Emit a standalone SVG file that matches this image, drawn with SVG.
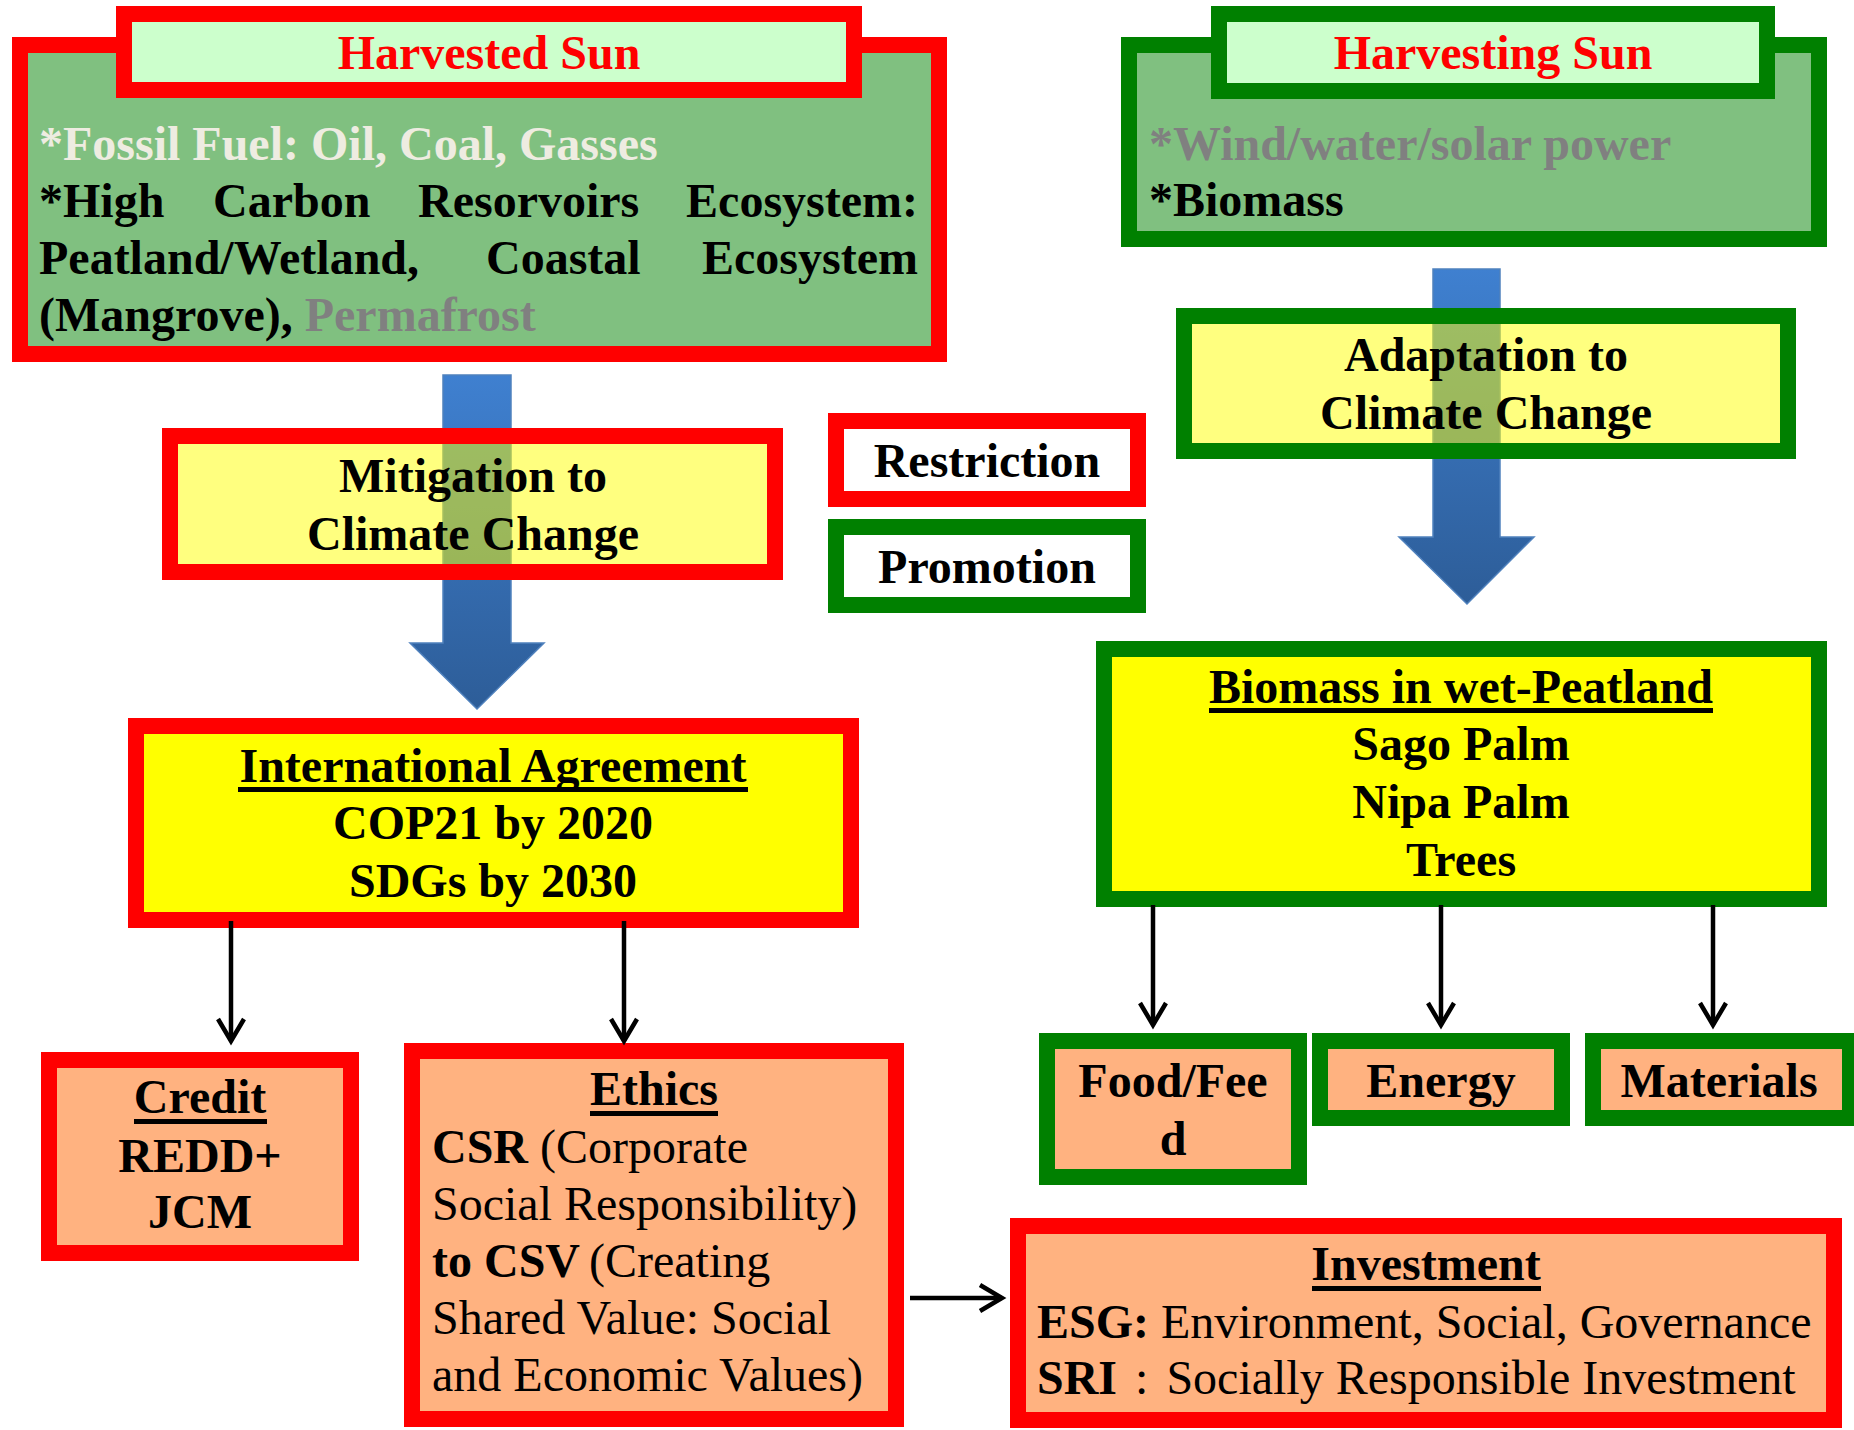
<svg xmlns="http://www.w3.org/2000/svg" width="1854" height="1430" viewBox="0 0 1854 1430">
<defs>
<style>
text{font-family:"Liberation Serif","Times New Roman","Noto Sans CJK JP",serif;font-size:48px;font-weight:bold;fill:#000}
.c{text-anchor:middle}
.e{text-anchor:end}
.n{font-weight:normal}
.red{fill:#ff0000}
.gray{fill:#808080}
.pale{fill:#eeece1}
.rb{stroke:#ff0000;stroke-width:16}
.gb{stroke:#008000;stroke-width:16}
.body{fill:#80c080}
.tab{fill:#ccffcc}
.ly{fill:#ffff00;fill-opacity:0.5}
.y{fill:#ffff00}
.pe{fill:#ffb280}
.w{fill:#ffffff}
.ul{fill:#000}
.blk{stroke:#000;stroke-width:4.5;fill:none}
.blue{fill:url(#bg);stroke:#4f81bd;stroke-width:1.5}
</style>
<linearGradient id="bg" x1="0" y1="0" x2="0" y2="1">
<stop offset="0" stop-color="#3f80d0"/>
<stop offset="1" stop-color="#2d5d98"/>
</linearGradient>
<marker id="ah" markerUnits="userSpaceOnUse" markerWidth="40" markerHeight="40" refX="30" refY="20" orient="auto" viewBox="0 0 40 40">
<path d="M8,7 L30,20 L8,33" fill="none" stroke="#000" stroke-width="4.5"/>
</marker>
</defs>
<rect width="1854" height="1430" fill="#ffffff"/>

<g id="connectors-back">
<polygon class="blue" points="443,375 511,375 511,643 544,643 477,709 410,643 443,643"/>
<polygon class="blue" points="1433,269 1500,269 1500,537 1534,537 1467,604 1399,537 1433,537"/>
</g>

<g id="harvested-sun">
<rect class="body rb" x="20" y="45" width="919" height="309"/>
<rect class="tab rb" x="124" y="14" width="730" height="76"/>
<text class="c red" x="489" y="69">Harvested Sun</text>
<text class="pale" x="39" y="160">*Fossil Fuel: Oil, Coal, Gasses</text>
<text x="39" y="217">*High</text>
<text x="213" y="217">Carbon</text>
<text x="418" y="217">Resorvoirs</text>
<text class="e" x="918" y="217">Ecosystem:</text>
<text x="39" y="274">Peatland/Wetland,</text>
<text x="486" y="274">Coastal</text>
<text class="e" x="918" y="274">Ecosystem</text>
<text x="39" y="331">(Mangrove), <tspan class="gray">Permafrost</tspan></text>
</g>

<g id="harvesting-sun">
<rect class="body gb" x="1129" y="45" width="690" height="194"/>
<rect class="tab gb" x="1219" y="14" width="548" height="77"/>
<text class="c red" x="1493" y="69">Harvesting Sun</text>
<text class="gray" x="1149" y="160">*Wind/water/solar power</text>
<text x="1149" y="216">*Biomass</text>
</g>

<g id="mitigation">
<rect class="ly rb" x="170" y="436" width="605" height="136"/>
<text class="c" x="473" y="492">Mitigation to</text>
<text class="c" x="473" y="550">Climate Change</text>
</g>

<g id="adaptation">
<rect class="ly gb" x="1184" y="316" width="604" height="135"/>
<text class="c" x="1486" y="371">Adaptation to</text>
<text class="c" x="1486" y="429">Climate Change</text>
</g>

<g id="restriction">
<rect class="w rb" x="836" y="421" width="302" height="78"/>
<text class="c" x="987" y="477">Restriction</text>
</g>

<g id="promotion">
<rect class="w gb" x="836" y="527" width="302" height="78"/>
<text class="c" x="987" y="583">Promotion</text>
</g>

<g id="international-agreement">
<rect class="y rb" x="136" y="726" width="715" height="194"/>
<text class="c" x="493" y="782">International Agreement</text>
<rect class="ul" x="238" y="787" width="510" height="5"/>
<text class="c" x="493" y="839">COP21 by 2020</text>
<text class="c" x="493" y="897">SDGs by 2030</text>
</g>

<g id="biomass-wet-peatland">
<rect class="y gb" x="1104" y="649" width="715" height="250"/>
<text class="c" x="1461" y="703">Biomass in wet-Peatland</text>
<rect class="ul" x="1209" y="708" width="504" height="5"/>
<text class="c" x="1461" y="760">Sago Palm</text>
<text class="c" x="1461" y="818">Nipa Palm</text>
<text class="c" x="1461" y="876">Trees</text>
</g>

<g id="credit">
<rect class="pe rb" x="49" y="1060" width="302" height="193"/>
<text class="c" x="200" y="1113">Credit</text>
<rect class="ul" x="134" y="1119" width="133" height="5"/>
<text class="c" x="200" y="1172">REDD+</text>
<text class="c" x="200" y="1228">JCM</text>
</g>

<g id="ethics">
<rect class="pe rb" x="412" y="1051" width="484" height="368"/>
<text class="c" x="654" y="1105">Ethics</text>
<rect class="ul" x="590" y="1111" width="128" height="5"/>
<text x="432" y="1163">CSR<tspan class="n"> (Corporate</tspan></text>
<text class="n" x="432" y="1220">Social Responsibility)</text>
<text x="432" y="1277">to CSV<tspan class="n" dx="-3"> (Creating</tspan></text>
<text class="n" x="432" y="1334">Shared Value: Social</text>
<text class="n" x="432" y="1391">and Economic Values)</text>
</g>

<g id="investment">
<rect class="pe rb" x="1018" y="1226" width="816" height="194"/>
<text class="c" x="1426" y="1280">Investment</text>
<rect class="ul" x="1312" y="1286" width="229" height="5"/>
<text x="1037" y="1338">ESG:<tspan class="n"> Environment, Social, Governance</tspan></text>
<text x="1037" y="1394">SRI<tspan class="n" dx="18">:</tspan><tspan class="n" dx="18">Socially Responsible Investment</tspan></text>
</g>

<g id="food-feed">
<rect class="pe gb" x="1047" y="1041" width="252" height="136"/>
<text class="c" x="1173" y="1097">Food/Fee</text>
<text class="c" x="1173" y="1155">d</text>
</g>

<g id="energy">
<rect class="pe gb" x="1320" y="1041" width="242" height="77"/>
<text class="c" x="1441" y="1097">Energy</text>
</g>

<g id="materials">
<rect class="pe gb" x="1593" y="1041" width="257" height="77"/>
<text class="c" x="1719" y="1097">Materials</text>
</g>

<g id="connectors">
<line class="blk" x1="231" y1="921" x2="231" y2="1041" marker-end="url(#ah)"/>
<line class="blk" x1="624" y1="921" x2="624" y2="1041" marker-end="url(#ah)"/>
<line class="blk" x1="1153" y1="905" x2="1153" y2="1025" marker-end="url(#ah)"/>
<line class="blk" x1="1441" y1="905" x2="1441" y2="1025" marker-end="url(#ah)"/>
<line class="blk" x1="1713" y1="905" x2="1713" y2="1025" marker-end="url(#ah)"/>
<line class="blk" x1="910" y1="1298" x2="1002" y2="1298" marker-end="url(#ah)"/>
</g>
</svg>
